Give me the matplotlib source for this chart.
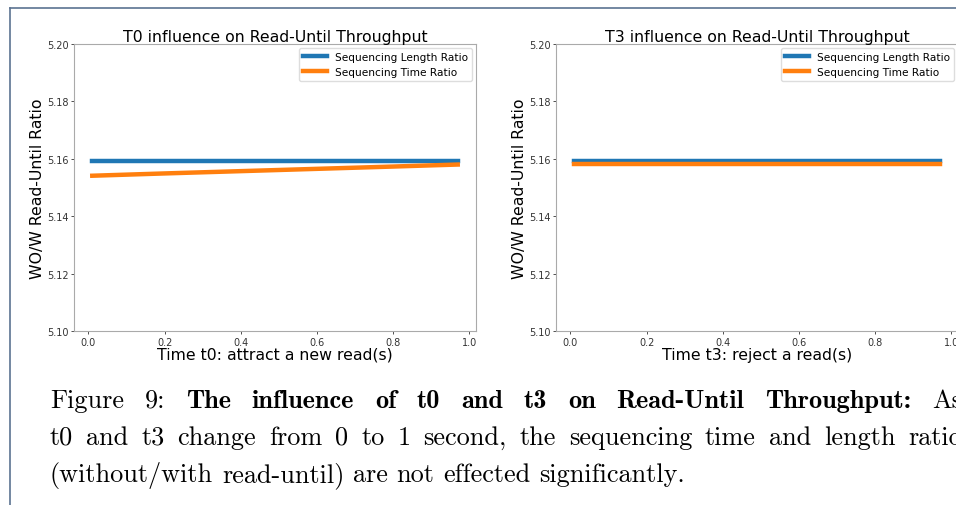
import numpy as np
import matplotlib
matplotlib.use('Agg')
import matplotlib.pyplot as plt
from matplotlib.lines import Line2D

# 数据：t0 / t3 从 0 到 1 秒
t0_x = [0.01, 0.2, 0.4, 0.6, 0.8, 0.97]
t0_len_ratio = [5.1591, 5.1591, 5.1591, 5.1591, 5.1591, 5.1591]
t0_time_ratio = [5.1541, 5.1549, 5.1557, 5.1565, 5.1573, 5.1580]

t3_x = [0.01, 0.2, 0.4, 0.6, 0.8, 0.97]
t3_len_ratio = [5.1591, 5.1591, 5.1591, 5.1591, 5.1591, 5.1591]
t3_time_ratio = [5.1582, 5.1582, 5.1582, 5.1582, 5.1582, 5.1582]

titles = ['T0 influence on Read-Until Throughput', 'T3 influence on Read-Until Throughput']
xlabels = ['Time t0: attract a new read(s)', 'Time t3: reject a read(s)']
ylabel = 'WO/W Read-Until Ratio'
legend_labels = ['Sequencing Length Ratio', 'Sequencing Time Ratio']

# 图注（每行：(文字, 是否加粗) 的片段）
caption_lines = [
    [('Figure 9:', False), ('The influence of t0 and t3 on Read-Until Throughput:', True), ('As', False)],
    [('t0 and t3 change from 0 to 1 second, the sequencing time and length ratio', False)],
    [('(without/with read-until) are not effected significantly.', False)],
]

W, H = 956, 506
fig = plt.figure(figsize=(W / 100, H / 100), dpi=100)
fig.patch.set_facecolor('white')

# 页面边框
border = '#5b7391'
fig.add_artist(Line2D([10 / W, 10 / W], [0, 1 - 9 / H], color=border, lw=1.2))
fig.add_artist(Line2D([10 / W, 1], [1 - 9 / H, 1 - 9 / H], color=border, lw=1.2))

ax_h = (332 - 45) / H
ax_w = 402 / W
ax_b = 1 - 332 / H
axes = [fig.add_axes([74 / W, ax_b, ax_w, ax_h]),
        fig.add_axes([556 / W, ax_b, ax_w, ax_h])]

data = [(t0_x, t0_len_ratio, t0_time_ratio), (t3_x, t3_len_ratio, t3_time_ratio)]

for ax, (x, y1, y2), title, xl in zip(axes, data, titles, xlabels):
    ax.plot(x, y1, color='#1f77b4', lw=3.2, label=legend_labels[0])
    ax.plot(x, y2, color='#ff7f0e', lw=3.2, label=legend_labels[1])
    ax.set_ylim(5.10, 5.20)
    ax.set_xticks([0.0, 0.2, 0.4, 0.6, 0.8, 1.0])
    ax.set_yticks([5.10, 5.12, 5.14, 5.16, 5.18, 5.20])
    ax.tick_params(labelsize=7, colors='#333333', length=2.5, width=0.6, pad=1.5)
    for s in ax.spines.values():
        s.set_color('#aaaaaa')
        s.set_linewidth(0.8)
    ax.set_title(title, fontsize=11.3, pad=2)
    ax.set_xlabel(xl, fontsize=11.3, labelpad=0)
    ax.set_ylabel(ylabel, fontsize=11.3, labelpad=1)
    ax.legend(loc='upper right', fontsize=7.6, handlelength=2.2, borderaxespad=0.35,
              labelspacing=0.45, framealpha=1, edgecolor='#dddddd')

# 图注：两端对齐（前两行），最后一行自然排版
renderer = fig.canvas.get_renderer()
cap_size = 18.9
cap_left, cap_right = 50, 962
baselines = [408, 445, 482]


def width_of(s, bold):
    t = fig.text(0, 0, s, fontsize=cap_size, family='cmb10' if bold else 'cmr10')
    w = t.get_window_extent(renderer).width
    t.remove()
    return w


for i, (line, yb) in enumerate(zip(caption_lines, baselines)):
    words = []
    for seg, bold in line:
        words += [(w, bold) for w in seg.split(' ')]
    widths = [width_of(w, b) for w, b in words]
    if i < len(caption_lines) - 1:
        gap = (cap_right - cap_left - sum(widths)) / (len(words) - 1)
    else:
        gap = cap_size * 100 / 72 * 0.333
    x = cap_left
    for (w, bold), wd in zip(words, widths):
        fig.text(x / W, 1 - yb / H, w, fontsize=cap_size,
                 family='cmb10' if bold else 'cmr10', va='baseline', ha='left')
        x += wd + gap

fig.savefig('out.png', dpi=100)
